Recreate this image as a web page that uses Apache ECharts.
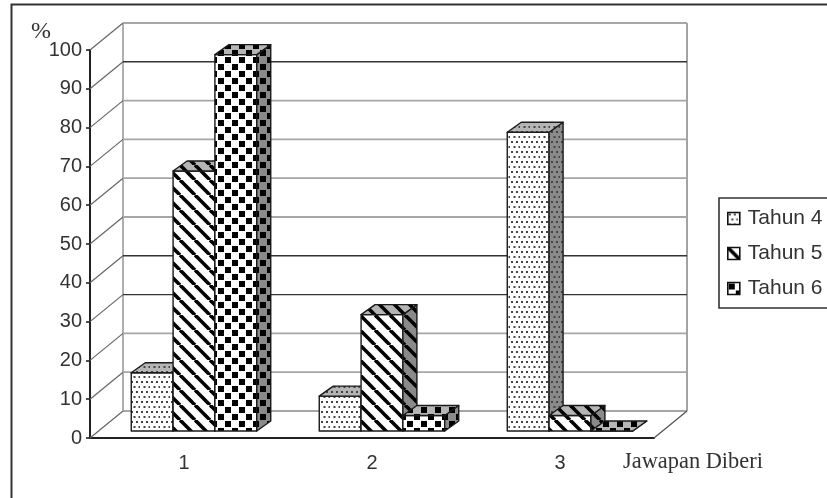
<!DOCTYPE html>
<html>
<head>
<meta charset="utf-8">
<style>html,body{margin:0;padding:0;background:#fff}#chart{width:827px;height:498px}</style>
<script src="https://cdn.jsdelivr.net/npm/echarts@6/dist/echarts.min.js"></script>
</head>
<body>
<div id="chart"></div>
<script>
// Answer categories and the share of pupils per school year, in percent.
const categories = ['1', '2', '3'];
const tahun4 = [15, 9, 77];
const tahun5 = [67, 30, 4];
const tahun6 = [97, 4, 0];
const seriesNames = ['Tahun 4', 'Tahun 5', 'Tahun 6'];
const yTicks = [0, 10, 20, 30, 40, 50, 60, 70, 80, 90, 100];
const darkWallLines = [30, 40, 90];
const yUnit = '%';
const xCaption = 'Jawapan Diberi';

const INK = '#1a1a1a';
const WALL = { dx: 33, dy: -27 };     // depth of the chart box
const BAR_SHIFT = { dx: 10, dy: -7 }; // bars stand a little way into the box
const BAR_DEPTH = { dx: 14, dy: -10 };

// Hatch tiles: dots, diagonal stripes and a checkerboard.
function tile(size, paint, bg) {
  const c = document.createElement('canvas');
  c.width = c.height = size;
  const g = c.getContext('2d');
  g.fillStyle = bg;
  g.fillRect(0, 0, size, size);
  paint(g, size);
  return { image: c, repeat: 'repeat' };
}
function dots(bg) {
  return tile(10, function (g) {
    g.fillStyle = '#444';
    [[1, 1], [6, 1], [3.5, 6], [8.5, 6]].forEach(function (p) { g.fillRect(p[0], p[1], 2, 2); });
  }, bg);
}
function stripes(bg) {
  return tile(15, function (g, s) {
    g.strokeStyle = '#000';
    g.lineWidth = 3.6;
    [-s, 0, s].forEach(function (o) {
      g.beginPath();
      g.moveTo(o, 0);
      g.lineTo(o + s, s);
      g.stroke();
    });
  }, bg);
}
function checks(bg) {
  return tile(14, function (g) {
    g.fillStyle = '#000';
    g.fillRect(1, 1, 6, 6);
    g.fillRect(8, 8, 6, 6);
  }, bg);
}
const makers = [dots, stripes, checks];
const faces = makers.map(function (m) {
  return { front: m('#fff'), side: m('#8a8a8a'), top: m('#b5b5b5') };
});

function prism(points, fill) {
  return {
    type: 'polygon',
    shape: { points: points },
    style: { fill: fill, stroke: INK, lineWidth: 1.4, lineJoin: 'round' }
  };
}

// One bar drawn as three faces, located through the category and value scales.
function barRenderer(index) {
  return function (params, api) {
    const cat = api.value(0);
    const val = api.value(1);
    const band = api.size([1, 0])[0];
    const w = band * 0.2225;
    const base = api.coord([cat, 0]);
    const head = api.coord([cat, val]);
    const x0 = base[0] + BAR_SHIFT.dx + (index - 1.5) * w;
    const x1 = x0 + w;
    const yb = base[1] + BAR_SHIFT.dy;
    const yt = head[1] + BAR_SHIFT.dy;
    const dx = BAR_DEPTH.dx, dy = BAR_DEPTH.dy;
    const f = faces[index];
    return {
      type: 'group',
      children: [
        prism([[x0, yb], [x1, yb], [x1, yt], [x0, yt]], f.front),
        prism([[x1, yb], [x1 + dx, yb + dy], [x1 + dx, yt + dy], [x1, yt]], f.side),
        prism([[x0, yt], [x1, yt], [x1 + dx, yt + dy], [x0 + dx, yt + dy]], f.top)
      ]
    };
  };
}

// Side and back walls of the box, one gridline per tick.
function wallRenderer(params, api) {
  const v = api.value(1);
  const rect = params.coordSys;
  const y = api.coord([0, v])[1];
  const left = rect.x, right = rect.x + rect.width;
  const backY = y + WALL.dy;
  const dark = darkWallLines.indexOf(v) >= 0;
  const kids = [
    { type: 'line', shape: { x1: left, y1: y, x2: left + WALL.dx, y2: backY },
      style: { stroke: '#666', lineWidth: 1.2 } },
    { type: 'line', shape: { x1: left + WALL.dx, y1: backY, x2: right + WALL.dx, y2: backY },
      style: { stroke: dark ? '#333' : '#a6a6a6', lineWidth: dark ? 1.4 : 1.8 } }
  ];
  if (v === 0) {
    const top = api.coord([0, 100])[1] + WALL.dy;
    kids.push(
      { type: 'line', shape: { x1: left + WALL.dx, y1: backY, x2: left + WALL.dx, y2: top },
        style: { stroke: '#a6a6a6', lineWidth: 1.8 } },
      { type: 'line', shape: { x1: right + WALL.dx, y1: backY, x2: right + WALL.dx, y2: top },
        style: { stroke: '#999', lineWidth: 1.8 } },
      { type: 'line', shape: { x1: right, y1: y, x2: right + WALL.dx, y2: backY },
        style: { stroke: '#555', lineWidth: 1.3 } }
    );
  }
  return { type: 'group', children: kids };
}

const values = [tahun4, tahun5, tahun6];
const chart = echarts.init(document.getElementById('chart'), null, { renderer: 'canvas' });

chart.setOption({
  animation: false,
  backgroundColor: '#fff',
  grid: { left: 90, right: 173, top: 50, bottom: 60 },
  xAxis: {
    type: 'category',
    data: categories,
    axisLine: { lineStyle: { color: '#222', width: 2 } },
    axisTick: { length: 7, lineStyle: { color: '#222', width: 1.6 } },
    axisLabel: { color: '#333', fontFamily: 'Liberation Sans', fontSize: 20, margin: 15 },
    splitLine: { show: false }
  },
  yAxis: {
    type: 'value',
    min: 0,
    max: 100,
    interval: 10,
    axisLine: { show: true, lineStyle: { color: '#222', width: 2 } },
    axisTick: { show: true, length: 4, lineStyle: { color: '#222', width: 1.6 } },
    axisLabel: { color: '#333', fontFamily: 'Liberation Sans', fontSize: 20, margin: 8 },
    splitLine: { show: false }
  },
  legend: {
    left: 719,
    top: 198,
    orient: 'vertical',
    padding: [10, 60, 9, 8],
    itemWidth: 12,
    itemHeight: 12,
    itemGap: 14,
    backgroundColor: '#fff',
    borderColor: '#333',
    borderWidth: 1.6,
    textStyle: { color: '#333', fontFamily: 'Liberation Sans', fontSize: 21, padding: [0, 0, 4, 3] },
    data: seriesNames.map(function (name, i) {
      return {
        name: name,
        icon: 'rect',
        itemStyle: { color: faces[i].front, borderColor: '#111', borderWidth: 1.6 }
      };
    })
  },
  graphic: [
    { type: 'rect', left: 9, top: 2, silent: true, z: -1,
      shape: { width: 900, height: 600 },
      style: { fill: 'none', stroke: '#333', lineWidth: 2 } },
    { type: 'text', left: 623, top: 451, silent: true,
      style: { text: xCaption, fill: '#333', font: '22.4px "Liberation Serif"' } },
    { type: 'text', left: 31, top: 20, silent: true,
      style: { text: yUnit, fill: '#333', font: '24px "Liberation Serif"' } }
  ],
  series: [
    {
      type: 'custom',
      coordinateSystem: 'cartesian2d',
      silent: true,
      z: 1,
      renderItem: wallRenderer,
      data: yTicks.map(function (t) { return [0, t]; })
    }
  ].concat(seriesNames.map(function (name, i) {
    return {
      name: name,
      type: 'custom',
      coordinateSystem: 'cartesian2d',
      z: 2 + i,
      clip: false,
      itemStyle: { color: faces[i].front },
      renderItem: barRenderer(i),
      data: categories.map(function (c, k) { return [k, values[i][k]]; })
    };
  }))
});
</script>
</body>
</html>
